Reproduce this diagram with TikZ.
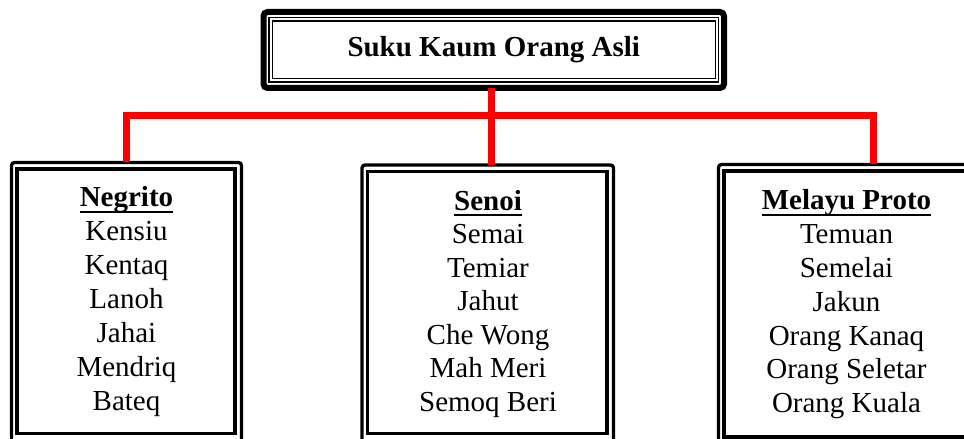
\documentclass[tikz,border=0pt]{standalone}
\usepackage{fontspec}
\setmainfont{Liberation Serif}
\usetikzlibrary{positioning}

\newcommand\headline[1]{\setbox0\hbox{\bfseries#1}\rlap{\rule[-6pt]{\wd0}{2pt}}\box0}

\tikzset{
    redline/.style={draw=red, line width=7pt},
    outerbox/.style={draw, line width=3.3pt, rounded corners=3pt, outer sep=0pt, inner sep=0pt},
    innerline/.style={draw, line width=3.3pt},
    topbox/.style={draw, line width=6pt, rounded corners=4pt, outer sep=0pt, inner sep=0pt,
        font=\fontsize{29}{34}\selectfont\bfseries},
    topinner/.style={draw, double, line width=1.2pt, double distance=2pt},
    item/.style={anchor=base, inner sep=0pt, font=\fontsize{29}{34}\selectfont}
}

\begin{document}
\begin{tikzpicture}[x=1pt, y=1pt, baseline=(current bounding box.center)]
        \clip (0,0) rectangle (964,439);

        \node[topbox, minimum width=460.5pt, minimum height=76pt] (top) at (493.75, 389) {Suku Kaum Orang Asli};
        \node[outerbox, minimum width=230pt,   minimum height=280.5pt] (negrito) at (126.5, 136.25) {};
        \node[outerbox, minimum width=251.5pt, minimum height=278pt]   (senoi)   at (487.75, 135) {};
        \node[outerbox, minimum width=309pt,   minimum height=282pt]   (melayu)  at (873, 133.5) {};
        \coordinate (bar) at (491.5, 323.5);

        \draw[redline] (negrito.north) |- (bar) -| (melayu.north);
        \draw[redline] (bar |- top.south) -- (bar |- senoi.north);

        \draw[topinner] ([shift={(7,-7.5)}]top.north west) rectangle ([shift={(-7,7.5)}]top.south east);
        \foreach \b in {negrito, senoi, melayu}
            \draw[innerline] ([shift={(5.5,-6.5)}]\b.north west) rectangle ([shift={(-6.5,9.5)}]\b.south east);

        \node[item] (negH) at (126.5, 232)  {\headline{Negrito}};
        \node[item] (senH) at (488, 228.5)  {\headline{Senoi}};
        \node[item] (melH) at (846.5, 229)  {\headline{Melayu Proto}};

        \foreach \t [count=\i] in {Kensiu, Kentaq, Lanoh, Jahai, Mendriq, Bateq}
            \node[item] (neg\i) at ([yshift=-34*\i]negH.base) {\t};
        \foreach \t [count=\i] in {Semai, Temiar, Jahut, Che Wong, Mah Meri, Semoq Beri}
            \node[item] (sen\i) at ([yshift=-33.5*\i]senH.base) {\t};
        \foreach \t [count=\i] in {Temuan, Semelai, Jakun, Orang Kanaq, Orang Seletar, Orang Kuala}
            \node[item] (mel\i) at ([yshift=-33.8*\i]melH.base) {\t};
\end{tikzpicture}
\end{document}
